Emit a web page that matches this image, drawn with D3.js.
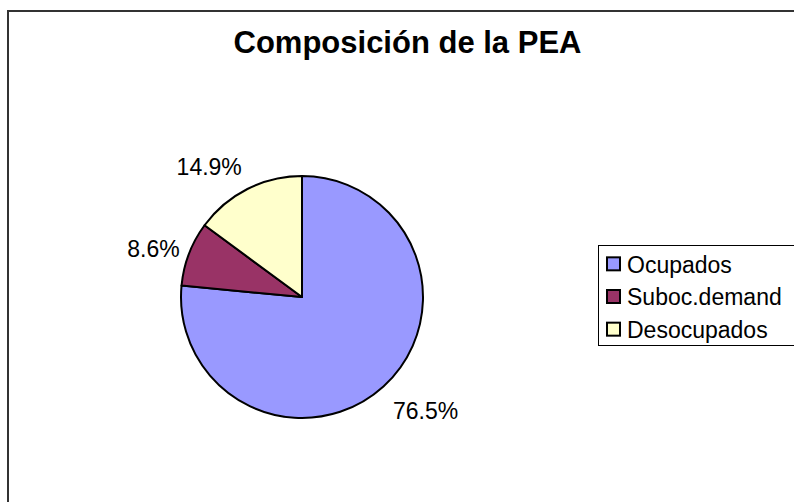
<!DOCTYPE html>
<html><head><meta charset="utf-8">
<script src="https://cdn.jsdelivr.net/npm/d3@7"></script>
<style>html,body{margin:0;padding:0;background:#fff;}svg{display:block;}</style>
</head><body>
<svg id="c" width="794" height="502"></svg>
<script>
const categories = ["Ocupados", "Suboc.demand", "Desocupados"];
const values = [76.5, 8.6, 14.9];
const labels = ["76.5%", "8.6%", "14.9%"];
const colors = ["#9999FF", "#993366", "#FFFFCC"];
const title = "Composición de la PEA";

const svg = d3.select("#c");
const font = "Liberation Sans, Arial, sans-serif";

// outer chart border (extends past right/bottom edges)
svg.append("rect").attr("x", 8).attr("y", 11).attr("width", 820).attr("height", 520)
  .attr("fill", "#fff").attr("stroke", "#333").attr("stroke-width", 2);

svg.append("text").attr("x", 407.5).attr("y", 53).attr("text-anchor", "middle")
  .attr("font-family", font).attr("font-weight", "bold").attr("font-size", 31)
  .text(title);

const cx = 302, cy = 297, r = 121;
const pie = d3.pie().sort(null).value(d => d)(values);
const arc = d3.arc().innerRadius(0).outerRadius(r);
const g = svg.append("g").attr("transform", `translate(${cx},${cy})`);
g.selectAll("path").data(pie).join("path")
  .attr("d", arc).attr("fill", (d, i) => colors[i])
  .attr("stroke", "#000").attr("stroke-width", 2).attr("stroke-linejoin", "round");

// labels positioned outside each slice
const labelArc = d3.arc().innerRadius(168).outerRadius(168);
const nudge = [[10.5, -10.5], [8.5, 11.5], [-17, 19.5]];
g.selectAll("text.lbl").data(pie).join("text").attr("class", "lbl")
  .attr("x", (d, i) => labelArc.centroid(d)[0] + nudge[i][0])
  .attr("y", (d, i) => labelArc.centroid(d)[1] + nudge[i][1])
  .attr("dy", "0.36em")
  .attr("text-anchor", "middle")
  .attr("font-family", font).attr("font-size", 23).text((d, i) => labels[i]);

// legend
const lg = svg.append("g");
lg.append("rect").attr("x", 598.5).attr("y", 245.5).attr("width", 220).attr("height", 100)
  .attr("fill", "#fff").attr("stroke", "#000").attr("stroke-width", 1);
const ly = d3.scaleBand().domain(categories).range([248, 346]);
categories.forEach((c, i) => {
  const y = ly(c) + ly.bandwidth() / 2;
  lg.append("rect").attr("x", 607).attr("y", y - 7).attr("width", 13).attr("height", 13)
    .attr("fill", colors[i]).attr("stroke", "#000").attr("stroke-width", 2);
  lg.append("text").attr("x", 627).attr("y", y).attr("dy", "0.36em")
    .attr("font-family", font).attr("font-size", 23).text(c);
});
</script>
</body></html>
